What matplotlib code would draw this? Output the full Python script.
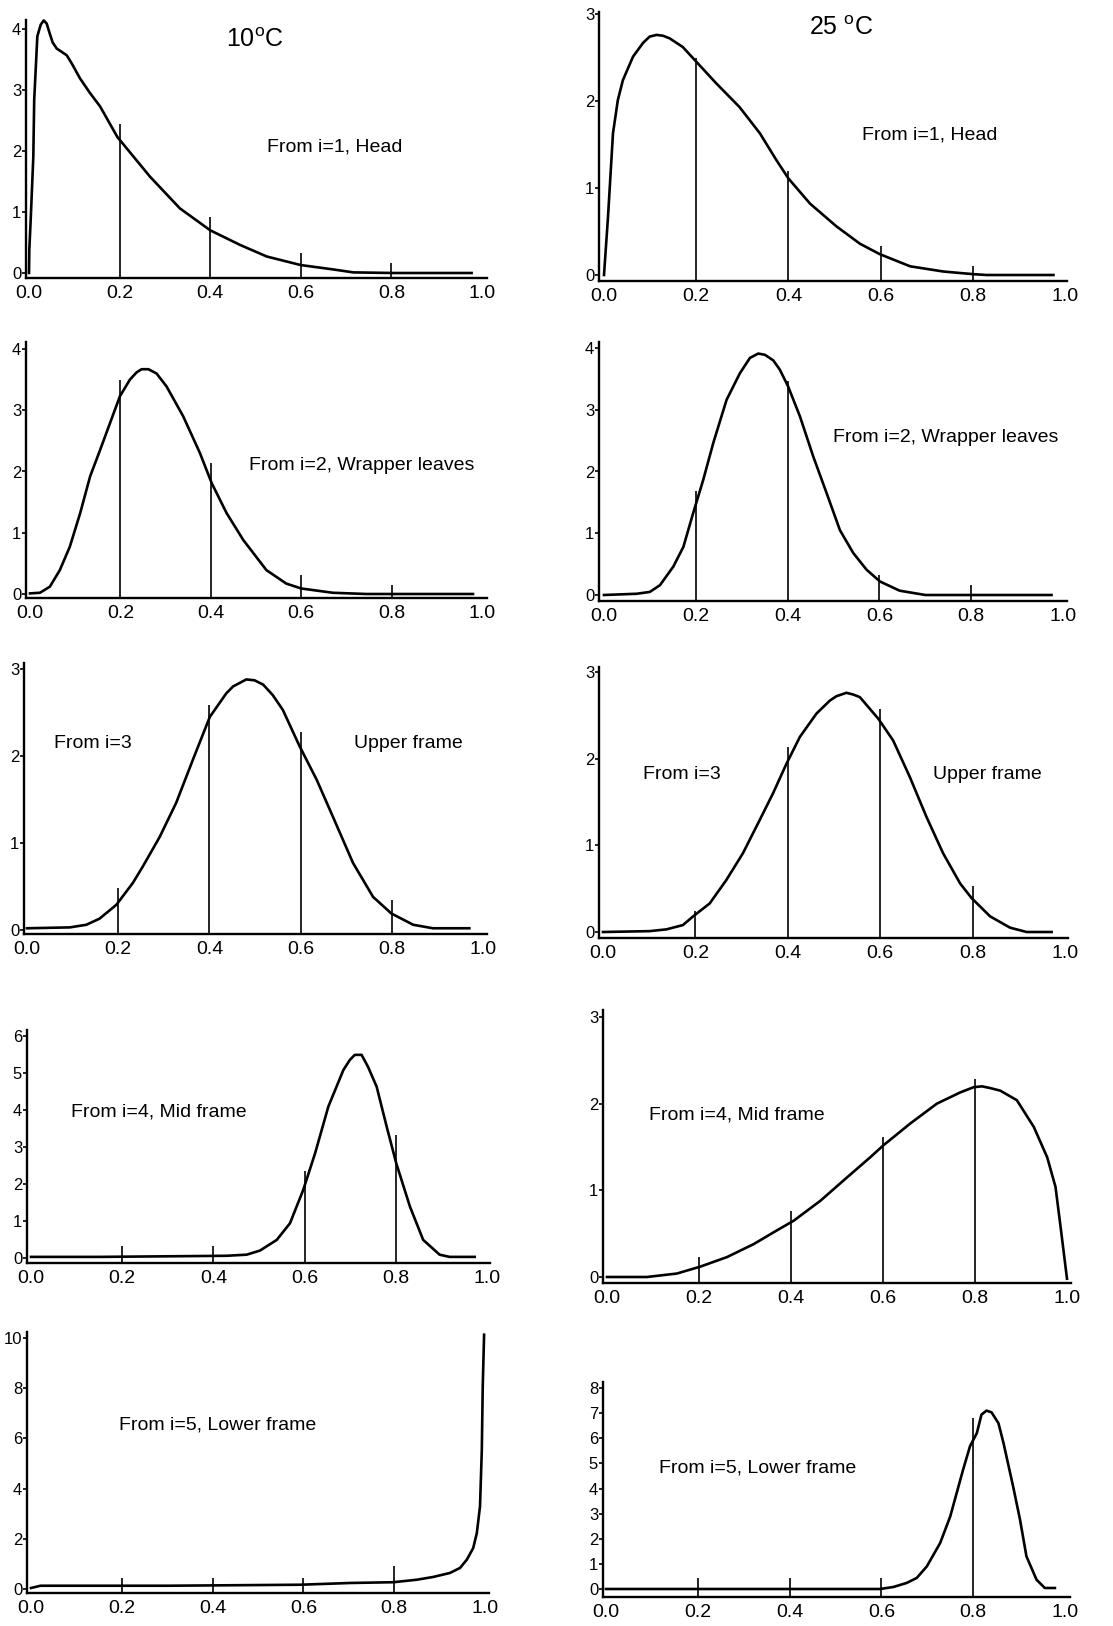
import matplotlib
matplotlib.use("Agg")
import matplotlib.pyplot as plt

plt.rcParams['font.family'] = ['Liberation Sans', 'DejaVu Sans']
plt.rcParams['mathtext.fontset'] = 'custom'
plt.rcParams['mathtext.rm'] = 'Liberation Sans'

# ---------------- data ----------------
x_ticks = [0.0, 0.2, 0.4, 0.6, 0.8, 1.0]
x_tick_labels = ["0.0", "0.2", "0.4", "0.6", "0.8", "1.0"]
marker_x = [0.2, 0.4, 0.6, 0.8]

titles = ["10$\\mathregular{^o}$C", "25 $\\mathregular{^o}$C"]

# 10 C, i=1 Head
a1_x = [0.0, 0.0007, 0.004, 0.0095, 0.0115, 0.0184, 0.0258, 0.0325, 0.039, 0.0456, 0.0522, 0.0611,
        0.0832, 0.094, 0.1126, 0.1347, 0.157, 0.195, 0.267, 0.333,
        0.4, 0.466, 0.525, 0.6, 0.67, 0.716, 0.805, 0.977]
a1_y = [0.0, 0.38, 0.92, 1.9, 2.84, 3.88, 4.07, 4.14, 4.09, 3.93, 3.78, 3.68,
        3.57, 3.44, 3.19, 2.95, 2.73, 2.23, 1.58, 1.06,
        0.70, 0.46, 0.27, 0.13, 0.06, 0.01, 0.0, 0.0]
a1_m = [2.44, 0.92, 0.32, 0.16]
a1_yt = [0, 1, 2, 3, 4]

# 25 C, i=1 Head
b1_x = [0.0, 0.0087, 0.0195, 0.030, 0.041, 0.063, 0.085, 0.099, 0.114, 0.128, 0.1425, 0.171, 0.197,
        0.244, 0.294, 0.338, 0.374, 0.4, 0.447, 0.504, 0.555, 0.598, 0.664, 0.736, 0.80, 0.83, 0.975]
b1_y = [0.0, 0.67, 1.63, 2.01, 2.24, 2.51, 2.67, 2.74, 2.76, 2.75, 2.72, 2.62, 2.47,
        2.20, 1.93, 1.63, 1.32, 1.11, 0.82, 0.56, 0.36, 0.24, 0.10, 0.04, 0.01, 0.0, 0.0]
b1_m = [2.49, 1.19, 0.33, 0.10]
b1_yt = [0, 1, 2, 3]

# 10 C, i=2 Wrapper leaves
a2_x = [0.0, 0.022, 0.044, 0.066, 0.088, 0.111, 0.133, 0.155, 0.177, 0.199, 0.221, 0.236, 0.247,
        0.262, 0.280, 0.302, 0.339, 0.376, 0.402, 0.435, 0.472, 0.523, 0.567, 0.60, 0.67, 0.744, 0.98]
a2_y = [0.01, 0.02, 0.12, 0.39, 0.77, 1.32, 1.92, 2.35, 2.79, 3.23, 3.50, 3.62, 3.67,
        3.67, 3.60, 3.39, 2.90, 2.30, 1.81, 1.32, 0.88, 0.39, 0.17, 0.09, 0.02, 0.0, 0.0]
a2_m = [3.50, 2.14, 0.31, 0.15]
a2_yt = [0, 1, 2, 3, 4]

# 25 C, i=2 Wrapper leaves
b2_x = [0.0, 0.071, 0.10, 0.122, 0.151, 0.173, 0.194, 0.216, 0.238, 0.267, 0.296, 0.318, 0.336,
        0.3505, 0.3687, 0.383, 0.401, 0.427, 0.456, 0.485, 0.514, 0.543, 0.572, 0.601, 0.644,
        0.70, 0.975]
b2_y = [0.0, 0.02, 0.05, 0.16, 0.46, 0.78, 1.32, 1.86, 2.46, 3.16, 3.59, 3.84, 3.91,
        3.89, 3.80, 3.65, 3.38, 2.89, 2.24, 1.65, 1.05, 0.68, 0.41, 0.22, 0.07,
        0.0, 0.0]
b2_m = [1.68, 3.46, 0.32, 0.16]
b2_yt = [0, 1, 2, 3, 4]

# 10 C, i=3 Upper frame
a3_x = [0.0, 0.094, 0.130, 0.159, 0.196, 0.232, 0.254, 0.291, 0.327, 0.364, 0.401, 0.437, 0.452,
        0.481, 0.499, 0.518, 0.539, 0.561, 0.598, 0.635, 0.671, 0.715, 0.759, 0.799, 0.847,
        0.89, 0.97]
a3_y = [0.02, 0.03, 0.06, 0.13, 0.29, 0.54, 0.73, 1.07, 1.46, 1.96, 2.45, 2.72, 2.80,
        2.88, 2.87, 2.82, 2.70, 2.53, 2.11, 1.73, 1.30, 0.77, 0.38, 0.19, 0.06,
        0.02, 0.02]
a3_m = [0.48, 2.59, 2.28, 0.35]
a3_yt = [0, 1, 2, 3]

# 25 C, i=3 Upper frame
b3_x = [0.0, 0.101, 0.137, 0.173, 0.195, 0.231, 0.267, 0.303, 0.339, 0.368, 0.397, 0.426, 0.462,
        0.491, 0.505, 0.527, 0.5415, 0.556, 0.596, 0.628, 0.664, 0.700, 0.736, 0.773, 0.798,
        0.838, 0.881, 0.917, 0.971]
b3_y = [0.0, 0.01, 0.03, 0.08, 0.18, 0.33, 0.60, 0.91, 1.29, 1.60, 1.94, 2.25, 2.52,
        2.67, 2.72, 2.76, 2.74, 2.71, 2.46, 2.21, 1.79, 1.33, 0.91, 0.56, 0.39,
        0.18, 0.05, 0.0, 0.0]
b3_m = [0.24, 2.14, 2.57, 0.53]
b3_yt = [0, 1, 2, 3]

# 10 C, i=4 Mid frame
a4_x = [0.0, 0.152, 0.429, 0.473, 0.502, 0.539, 0.568, 0.597, 0.623, 0.652, 0.685, 0.699, 0.710,
        0.725, 0.739, 0.758, 0.780, 0.801, 0.831, 0.860, 0.896, 0.918, 0.973]
a4_y = [0.03, 0.03, 0.06, 0.09, 0.20, 0.49, 0.94, 1.84, 2.83, 4.09, 5.08, 5.35, 5.49,
        5.49, 5.17, 4.63, 3.55, 2.56, 1.39, 0.49, 0.09, 0.03, 0.03]
a4_m = [0.33, 0.33, 2.34, 3.33]
a4_yt = [0, 1, 2, 3, 4, 5, 6]

# 25 C, i=4 Mid frame
b4_x = [0.0, 0.087, 0.152, 0.203, 0.261, 0.319, 0.370, 0.406, 0.464, 0.522, 0.572, 0.601, 0.659,
        0.717, 0.768, 0.797, 0.815, 0.833, 0.855, 0.891, 0.928, 0.957, 0.975, 0.986, 1.0]
b4_y = [0.0, 0.0, 0.04, 0.12, 0.23, 0.38, 0.54, 0.65, 0.88, 1.15, 1.38, 1.52, 1.77,
        2.00, 2.13, 2.19, 2.20, 2.18, 2.15, 2.04, 1.73, 1.38, 1.04, 0.58, -0.02]
b4_m = [0.23, 0.76, 1.62, 2.29]
b4_yt = [0, 1, 2, 3]

# 10 C, i=5 Lower frame
a5_x = [0.0, 0.021, 0.30, 0.593, 0.703, 0.798, 0.85, 0.886, 0.923, 0.945, 0.960, 0.974, 0.982,
        0.989, 0.993, 0.995, 0.998]
a5_y = [0.04, 0.13, 0.13, 0.17, 0.24, 0.27, 0.37, 0.48, 0.64, 0.84, 1.17, 1.63, 2.23,
        3.29, 5.55, 8.07, 10.13]
a5_m = [0.44, 0.44, 0.44, 0.90]
a5_yt = [0, 2, 4, 6, 8, 10]

# 25 C, i=5 Lower frame
b5_x = [0.0, 0.597, 0.626, 0.655, 0.677, 0.699, 0.728, 0.750, 0.764, 0.778, 0.793, 0.808, 0.818,
        0.829, 0.840, 0.855, 0.866, 0.887, 0.902, 0.916, 0.938, 0.956, 0.978]
b5_y = [0.0, 0.0, 0.08, 0.24, 0.44, 0.90, 1.83, 2.89, 3.82, 4.75, 5.68, 6.21, 6.94,
        7.10, 7.03, 6.60, 5.81, 4.08, 2.76, 1.30, 0.37, 0.04, 0.04]
b5_m = [0.44, 0.44, 0.44, 6.8]
b5_yt = [0, 1, 2, 3, 4, 5, 6, 7, 8]

labels_a = ["From i=1, Head", "From i=2, Wrapper leaves", ["From i=3", "Upper frame"],
            "From i=4, Mid frame", "From i=5, Lower frame"]
labels_b = labels_a

# ---------------- layout (pixel geometry) ----------------
W, H = 1113, 1626
# yaxis_x, x0_px, x1_px, right_px, xline_y, y0_px, ytop_val, ytop_px, axis_top
geom = {
    'a1': (26, 29, 482, 487, 278, 273, 4, 29, 20),
    'b1': (599, 604, 1065, 1067, 281, 275, 3, 14, 12),
    'a2': (26, 30, 482, 487, 598, 594, 4, 349, 342),
    'b2': (599, 604, 1063, 1067, 601, 595, 4, 348, 342),
    'a3': (24, 27, 483, 487, 934, 930, 3, 669, 663),
    'b3': (599, 603, 1065, 1068, 938, 932, 3, 672, 667),
    'a4': (27, 31, 487, 490, 1263, 1258, 6, 1036, 1030),
    'b4': (603, 607, 1067, 1071, 1283, 1277, 3, 1017, 1010),
    'a5': (27, 31, 485, 489, 1593, 1589, 10, 1338, 1332),
    'b5': (603, 606, 1065, 1070, 1597, 1589, 8, 1388, 1382),
}
# label positions: (x_left_px, y_center_px)
label_pos = {
    'a1': [(267, 147)], 'b1': [(862, 135)],
    'a2': [(249, 465)], 'b2': [(833, 438)],
    'a3': [(54, 743), (354, 743)], 'b3': [(643, 774), (933, 774)],
    'a4': [(71, 1112)], 'b4': [(649, 1115)],
    'a5': [(119, 1425)], 'b5': [(659, 1468)],
}

panels = {
    'a1': (a1_x, a1_y, a1_m, a1_yt, labels_a[0]),
    'b1': (b1_x, b1_y, b1_m, b1_yt, labels_b[0]),
    'a2': (a2_x, a2_y, a2_m, a2_yt, labels_a[1]),
    'b2': (b2_x, b2_y, b2_m, b2_yt, labels_b[1]),
    'a3': (a3_x, a3_y, a3_m, a3_yt, labels_a[2]),
    'b3': (b3_x, b3_y, b3_m, b3_yt, labels_b[2]),
    'a4': (a4_x, a4_y, a4_m, a4_yt, labels_a[3]),
    'b4': (b4_x, b4_y, b4_m, b4_yt, labels_b[3]),
    'a5': (a5_x, a5_y, a5_m, a5_yt, labels_a[4]),
    'b5': (b5_x, b5_y, b5_m, b5_yt, labels_b[4]),
}

fig = plt.figure(figsize=(W / 100, H / 100), dpi=100)
fig.patch.set_facecolor('white')

for key, (xs, ys, ms, yt, lab) in panels.items():
    yax, x0, x1, right, xline, y0, ytv, ytp, atop = geom[key]
    ax = fig.add_axes([yax / W, 1 - xline / H, (right - yax) / W, (xline - atop) / H])
    ppx = x1 - x0
    ppy = (y0 - ytp) / ytv
    ylo = -(xline - y0) / ppy
    ax.set_xlim(-(x0 - yax) / ppx, 1 + (right - x1) / ppx)
    ax.set_ylim(ylo, ytv + (ytp - atop) / ppy)
    ax.plot(xs, ys, color='black', lw=1.9, clip_on=False, solid_joinstyle='round')
    ax.vlines(marker_x, ylo, ms, colors='black', lw=1.2)
    for s in ['top', 'right']:
        ax.spines[s].set_visible(False)
    for s in ['left', 'bottom']:
        ax.spines[s].set_linewidth(1.7)
    ax.set_xticks(x_ticks)
    ax.set_xticklabels(x_tick_labels)
    ax.set_yticks(yt)
    ax.set_yticklabels([str(v) for v in yt])
    ax.tick_params(axis='x', length=0, pad=5, labelsize=14)
    ax.tick_params(axis='y', length=3, width=1.2, pad=0.5, labelsize=12)
    ax.patch.set_alpha(0)
    texts = lab if isinstance(lab, list) else [lab]
    for t, (px, py) in zip(texts, label_pos[key]):
        fig.text(px / W, 1 - py / H, t, ha='left', va='center', fontsize=14)

fig.text(255 / W, 1 - 47 / H, titles[0], ha='center', va='baseline', fontsize=18)
fig.text(841 / W, 1 - 35 / H, titles[1], ha='center', va='baseline', fontsize=18)

fig.savefig('out.png', dpi=100, facecolor='white')
